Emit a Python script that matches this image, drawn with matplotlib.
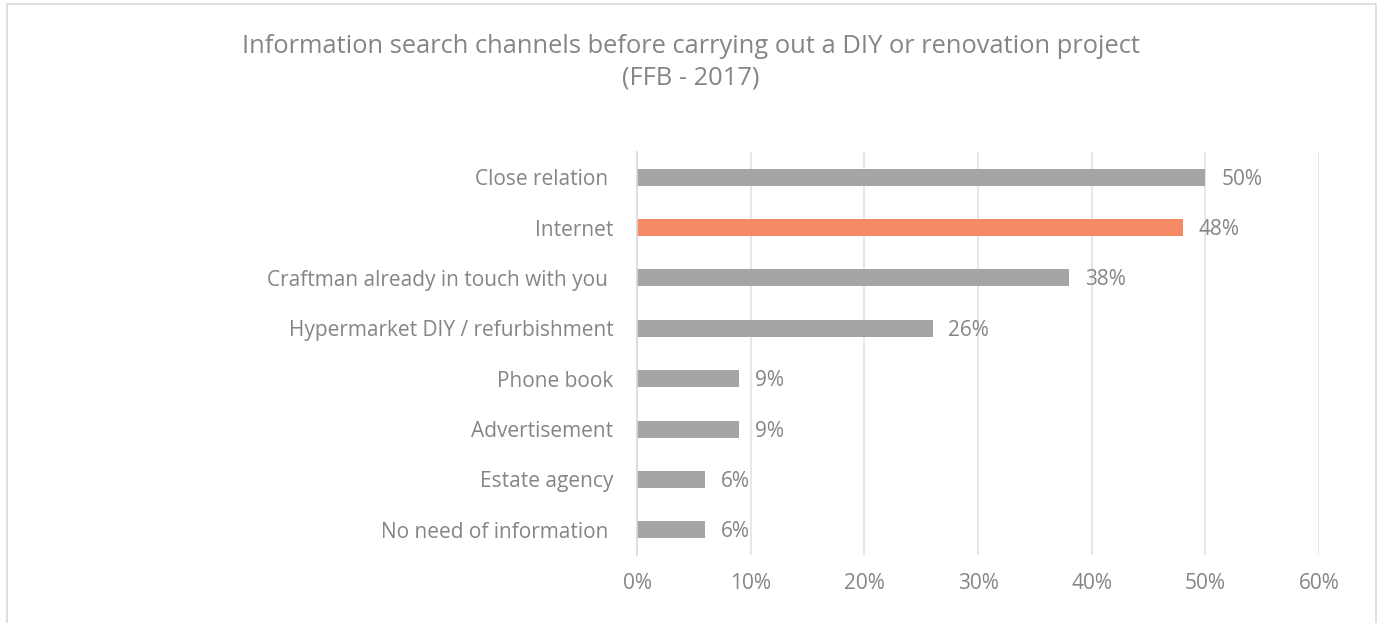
import matplotlib.pyplot as plt
from matplotlib.patches import Rectangle

categories = ["Close relation ", "Internet", "Craftman already in touch with you ",
              "Hypermarket DIY / refurbishment", "Phone book", "Advertisement",
              "Estate agency", "No need of information "]
values = [50, 48, 38, 26, 9, 9, 6, 6]
highlight = "Internet"
xticks = [0, 10, 20, 30, 40, 50, 60]

GREY = "#A5A5A5"
ORANGE = "#F58A65"
TEXT = "#858585"

plt.rcParams['font.family'] = ['Open Sans', 'DejaVu Sans']

fig = plt.figure(figsize=(13.81, 6.23), dpi=100)
ax = fig.add_axes([0.4613, 0.1091, 0.4938, 0.647])

ypos = list(range(len(categories)))
colors = [ORANGE if c == highlight else GREY for c in categories]
ax.barh(ypos, values, height=0.34, color=colors, zorder=2)
for y, v in zip(ypos, values):
    ax.text(v + 1.4, y + 0.04, f"{v}%", va="center", ha="left",
            fontsize=15, color=TEXT)

ax.set_ylim(len(categories) - 0.5, -0.5)
ax.set_xlim(0, 60)
ax.set_yticks(ypos)
ax.set_yticklabels(categories, fontsize=15, color=TEXT)
ax.set_xticks(xticks)
ax.set_xticklabels([f"{t}%" for t in xticks], fontsize=15, color=TEXT)
ax.tick_params(axis="both", length=0)
ax.tick_params(axis="y", pad=17)
ax.tick_params(axis="x", pad=13)
ax.grid(axis="x", color="#E3E3E3", linewidth=1.2, zorder=0)
for s in ["top", "right", "bottom"]:
    ax.spines[s].set_visible(False)
ax.spines["left"].set_color("#D9D9D9")
ax.spines["left"].set_linewidth(1.2)

fig.text(0.5, 1 - 62 / 623,
         "Information search channels before carrying out a DIY or renovation project\n(FFB - 2017)",
         ha="center", va="center", fontsize=18.4, color=TEXT, linespacing=1.35)

# outer chart frame
fig.patches.append(Rectangle((7 / 1381, -0.01), 1369 / 1381, 1 - 4 / 623 + 0.01,
                             transform=fig.transFigure, fill=False,
                             edgecolor="#D9D9D9", linewidth=1.2))

fig.savefig("out.png", dpi=100)
